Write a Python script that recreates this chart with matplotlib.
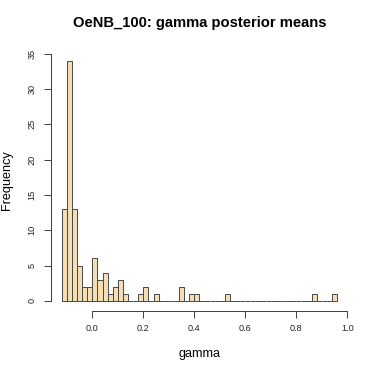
import matplotlib
matplotlib.use("Agg")
import matplotlib.pyplot as plt
import numpy as np

plt.rcParams['font.family'] = ['Liberation Sans', 'DejaVu Sans']

bin_start = -0.12
bin_width = 0.02
counts = [13, 34, 13, 5, 2, 2, 6, 3, 4, 1, 2, 3, 1, 0, 0, 1, 2, 0, 1, 0,
          0, 0, 0, 2, 0, 1, 1, 0, 0, 0, 0, 0, 1, 0, 0, 0, 0, 0, 0, 0,
          0, 0, 0, 0, 0, 0, 0, 0, 0, 1, 0, 0, 0, 1]
x_ticks = [0.0, 0.2, 0.4, 0.6, 0.8, 1.0]
x_ticklabels = ["0.0", "0.2", "0.4", "0.6", "0.8", "1.0"]
y_ticks = [0, 5, 10, 15, 20, 25, 30, 35]
title = "OeNB_100: gamma posterior means"
xlabel = "gamma"
ylabel = "Frequency"

edges = bin_start + bin_width * np.arange(len(counts) + 1)

W = H = 374
fig = plt.figure(figsize=(W / 100, H / 100), dpi=100)
left, right = 50.7 / W, 348.1 / W
bottom, top = 1 - 310.5 / H, 1 - 51.0 / H
ax = fig.add_axes([left, bottom, right - left, top - bottom])

ax.bar(edges[:-1], counts, width=bin_width, align='edge',
       color='#F5DEB3', edgecolor='#474747', linewidth=0.7)

lo, hi = edges[0], edges[-1]
pad = 0.04 * (hi - lo)
ax.set_xlim(lo - pad, hi + pad)
ymax = max(counts)
ax.set_ylim(-0.04 * ymax, ymax * 1.04)

for s in ['top', 'right']:
    ax.spines[s].set_visible(False)
ax.spines['left'].set_bounds(0, 35)
ax.spines['bottom'].set_bounds(0.0, 1.0)
for s in ['left', 'bottom']:
    ax.spines[s].set_color('#444444')
    ax.spines[s].set_linewidth(0.75)

ax.set_xticks(x_ticks)
ax.set_xticklabels(x_ticklabels)
ax.set_yticks(y_ticks)
ax.set_yticklabels([str(v) for v in y_ticks], rotation=90, va='center')
ax.tick_params(axis='both', direction='out', length=5.0, width=0.75,
               color='#444444', labelsize=6.6, labelcolor='#222222')
ax.tick_params(axis='x', pad=4.8)
ax.tick_params(axis='y', pad=5.0)

fig.text((left + right) / 2, 1 - 23 / H, title, ha='center', va='center',
         fontsize=10.6, fontweight='bold')
fig.text((left + right) / 2, 1 - 357 / H, xlabel, ha='center', va='baseline',
         fontsize=9.1)
fig.text(7.3 / W, 1 - 180 / H, ylabel, ha='center', va='center',
         rotation=90, fontsize=9.1)

fig.savefig("out.png", dpi=100)
